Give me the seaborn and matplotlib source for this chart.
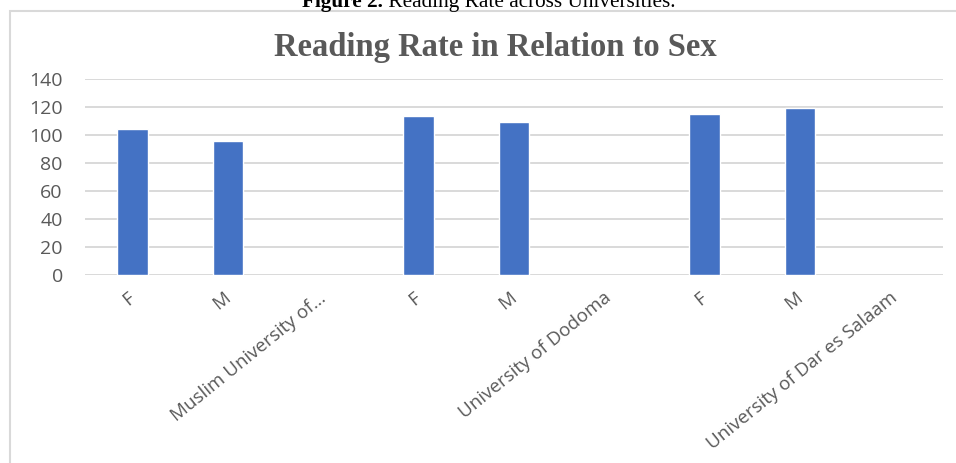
import numpy as np
import pandas as pd
import matplotlib
matplotlib.use("Agg")
import matplotlib.pyplot as plt
import seaborn as sns
from matplotlib.patches import Rectangle

# ---- data ----
tick_labels = ["F", "M", "Muslim University of...", "F", "M", "University of Dodoma",
               "F", "M", "University of Dar es Salaam"]
reading_rate = [104.5, 95.5, np.nan, 113.5, 109, np.nan, 115, 119.5, np.nan]
y_ticks = [0, 20, 40, 60, 80, 100, 120, 140]
title = "Reading Rate in Relation to Sex"
caption_bold = "Figure 2."
caption_rest = " Reading Rate across Universities."

sns.set_theme(style="white")
plt.rcParams["font.family"] = ["Open Sans", "DejaVu Sans"]

W, H = 956, 463
fig = plt.figure(figsize=(W / 100, H / 100), dpi=100)
ax = fig.add_axes([85 / W, 1 - 275 / H, (943 - 85) / W, (275 - 79) / H])

pos = list(range(len(tick_labels)))
df = pd.DataFrame({"pos": pos, "rate": reading_rate})
sns.barplot(data=df, x="pos", y="rate", order=pos, color="#4472C4",
            width=0.32, saturation=1, ax=ax, zorder=3)

ax.set_ylim(0, 140)
ax.set_xlim(-0.5, len(tick_labels) - 0.5)
ax.set_yticks(y_ticks)
ax.set_yticklabels([str(v) for v in y_ticks])
ax.set_xticks(pos)
ax.set_xticklabels(tick_labels, rotation=39, ha="right", va="center",
                   rotation_mode="anchor")
ax.set_xlabel("")
ax.set_ylabel("")
ax.grid(axis="y", color="#d9d9d9", linewidth=1.4, zorder=0)
ax.grid(axis="x", visible=False)
for s in ax.spines.values():
    s.set_visible(False)
ax.tick_params(axis="y", length=0, pad=16, labelsize=14, labelcolor="#595959")
ax.tick_params(axis="x", length=0, pad=15, labelsize=13.5, labelcolor="#595959")

# chart border
fig.patches.append(Rectangle((10 / W, -0.05), 1.2, 1 - 11 / H + 0.05,
                             transform=fig.transFigure, fill=False,
                             edgecolor="#d9d9d9", linewidth=1.5, zorder=0))

# title
fig.text(495 / W, 1 - 56 / H, title, ha="center", va="baseline",
         fontsize=23.5, fontweight="bold", color="#595959",
         family=["Liberation Serif", "DejaVu Serif"])

# caption (partly cut at top, as in the reference)
serif = ["Liberation Serif", "DejaVu Serif"]
t1 = fig.text(302 / W, 1 - 7 / H, caption_bold, ha="left", va="baseline",
              fontsize=15.3, fontweight="bold", color="black", family=serif)
fig.canvas.draw()
bb = t1.get_window_extent()
fig.text(bb.x1 / W, 1 - 7 / H, caption_rest, ha="left", va="baseline",
         fontsize=15.3, color="black", family=serif)

fig.savefig("out.png", dpi=100)
